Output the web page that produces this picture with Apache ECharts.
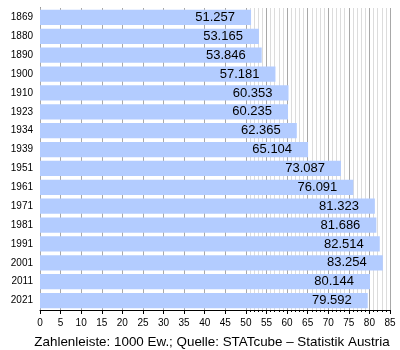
<!DOCTYPE html>
<html>
<head>
<meta charset="utf-8">
<script src="https://cdn.jsdelivr.net/npm/echarts@6/dist/echarts.min.js"></script>
<style>
  html, body { margin: 0; padding: 0; background: #fff; }
  #chart { width: 400px; height: 350px; }
</style>
</head>
<body>
<div id="chart"></div>
<script>
// Census years and population (in 1000 inhabitants)
const years = ['1869', '1880', '1890', '1900', '1910', '1923', '1934', '1939',
               '1951', '1961', '1971', '1981', '1991', '2001', '2011', '2021'];
const population = [51.257, 53.165, 53.846, 57.181, 60.353, 60.235, 62.365, 65.104,
                    73.087, 76.091, 81.323, 81.686, 82.514, 83.254, 80.144, 79.592];
const caption = 'Zahlenleiste: 1000 Ew.; Quelle: STATcube \u2013 Statistik Austria';

const AX_MIN = 0, AX_MAX = 85, FINE_FROM = 50;
const GRID_LEFT = 40, GRID_W = 350, GRID_TOP = 8, GRID_H = 302;
const fineLeft = GRID_LEFT + GRID_W * (FINE_FROM - AX_MIN) / (AX_MAX - AX_MIN);
const fineW = GRID_W * (AX_MAX - FINE_FROM) / (AX_MAX - AX_MIN);
const FONT = '"Liberation Sans", Arial, sans-serif';

const chart = echarts.init(document.getElementById('chart'), null, { renderer: 'canvas' });
chart.setOption({
  animation: false,
  backgroundColor: '#ffffff',
  grid: [
    { left: GRID_LEFT, top: GRID_TOP, width: GRID_W, height: GRID_H },
    { left: fineLeft, top: GRID_TOP, width: fineW, height: GRID_H }
  ],
  xAxis: [
    {
      gridIndex: 0, type: 'value', min: AX_MIN, max: AX_MAX, interval: 5, z: 1,
      axisLine: { show: true, lineStyle: { color: '#000', width: 1 } },
      axisTick: { show: true, length: 4, lineStyle: { color: '#000' } },
      axisLabel: { color: '#000', fontSize: 10, fontFamily: FONT, margin: 8 },
      splitLine: { show: true, lineStyle: { color: '#a8a8a8', width: 1 } }
    },
    {
      gridIndex: 1, type: 'value', min: FINE_FROM, max: AX_MAX, interval: 1, z: 0,
      axisLine: { show: false },
      axisTick: { show: true, length: 2, lineStyle: { color: '#000' } },
      axisLabel: { show: false },
      splitLine: { show: true, lineStyle: { color: '#dcdcdc', width: 1 } }
    }
  ],
  yAxis: [
    {
      gridIndex: 0, type: 'category', data: years, inverse: true,
      axisLine: { show: true, onZero: false, lineStyle: { color: '#000', width: 1 } },
      axisTick: { show: false },
      axisLabel: { color: '#000', fontSize: 10, fontFamily: FONT, margin: 7 }
    },
    {
      gridIndex: 1, type: 'category', data: years, inverse: true,
      axisLine: { show: false }, axisTick: { show: false }, axisLabel: { show: false }
    }
  ],
  series: [
    {
      type: 'bar',
      xAxisIndex: 0, yAxisIndex: 0,
      data: population,
      barCategoryGap: '19%',
      itemStyle: { color: '#b3ccff' },
      z: 2,
      label: {
        show: true,
        position: 'insideRight',
        distance: 16,
        color: '#000',
        fontSize: 13,
        fontFamily: FONT,
        formatter: p => p.value.toFixed(3)
      }
    }
  ],
  graphic: [
    {
      type: 'text', x: 212, y: 342,
      style: {
        text: caption, fill: '#000', font: '13.4px ' + FONT,
        align: 'center', verticalAlign: 'middle'
      }
    }
  ]
});
</script>
</body>
</html>
